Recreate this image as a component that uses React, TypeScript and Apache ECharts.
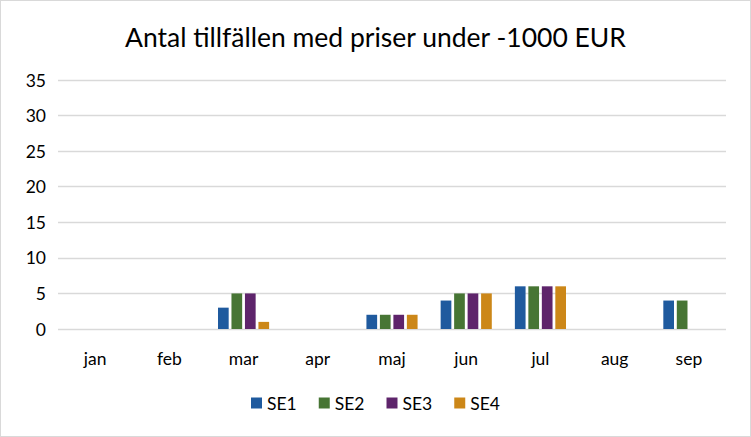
import React, { useEffect, useRef } from "react";
import * as echarts from "echarts";

const categories = ["jan", "feb", "mar", "apr", "maj", "jun", "jul", "aug", "sep"];
const seriesNames = ["SE1", "SE2", "SE3", "SE4"];
const se1 = [0, 0, 3, 0, 2, 4, 6, 0, 4];
const se2 = [0, 0, 5, 0, 2, 5, 6, 0, 4];
const se3 = [0, 0, 5, 0, 2, 5, 6, 0, 0];
const se4 = [0, 0, 1, 0, 2, 5, 6, 0, 0];
const colors = ["#1F5A9E", "#477534", "#5E246B", "#CC8718"];
const titleText = "Antal tillfällen med priser under -1000 EUR";

const FONT = "Lato";

export default function App() {
  const ref = useRef<HTMLDivElement>(null);
  useEffect(() => {
    if (!ref.current) return;
    const chart = echarts.init(ref.current, undefined, { renderer: "svg" });
    const values = [se1, se2, se3, se4];
    chart.setOption({
      animation: false,
      backgroundColor: "#ffffff",
      title: {
        text: titleText,
        left: "center",
        top: 17,
        textStyle: { fontFamily: FONT, fontSize: 26.5, fontWeight: "normal", color: "#000000" },
      },
      grid: { left: 57, right: 24, top: 79, bottom: 107 },
      legend: {
        bottom: 19,
        left: "center",
        itemWidth: 11,
        itemHeight: 11,
        itemGap: 22,
        icon: "rect",
        textStyle: { fontFamily: FONT, fontSize: 17.5, color: "#000000", padding: [0, 0, 0, 0] },
        data: seriesNames,
      },
      xAxis: {
        type: "category",
        data: categories,
        axisLine: { show: false },
        axisTick: { show: false },
        axisLabel: { fontFamily: FONT, fontSize: 17.5, color: "#000000", margin: 20 },
      },
      yAxis: {
        type: "value",
        min: 0,
        max: 35,
        interval: 5,
        axisLine: { show: false },
        axisTick: { show: false },
        axisLabel: { fontFamily: FONT, fontSize: 17.5, color: "#000000", margin: 12 },
        splitLine: { lineStyle: { color: "#D9D9D9", width: 1.3 } },
      },
      series: seriesNames.map((name, i) => ({
        name,
        type: "bar",
        data: values[i],
        itemStyle: { color: colors[i] },
        barWidth: 10.7,
        barGap: "26%",
      })),
    });
    return () => chart.dispose();
  }, []);
  return (
    <div
      ref={ref}
      style={{
        position: "absolute",
        left: 0,
        top: 0,
        width: 751,
        height: 437,
        boxSizing: "border-box",
        border: "1px solid #D9D9D9",
      }}
    />
  );
}
